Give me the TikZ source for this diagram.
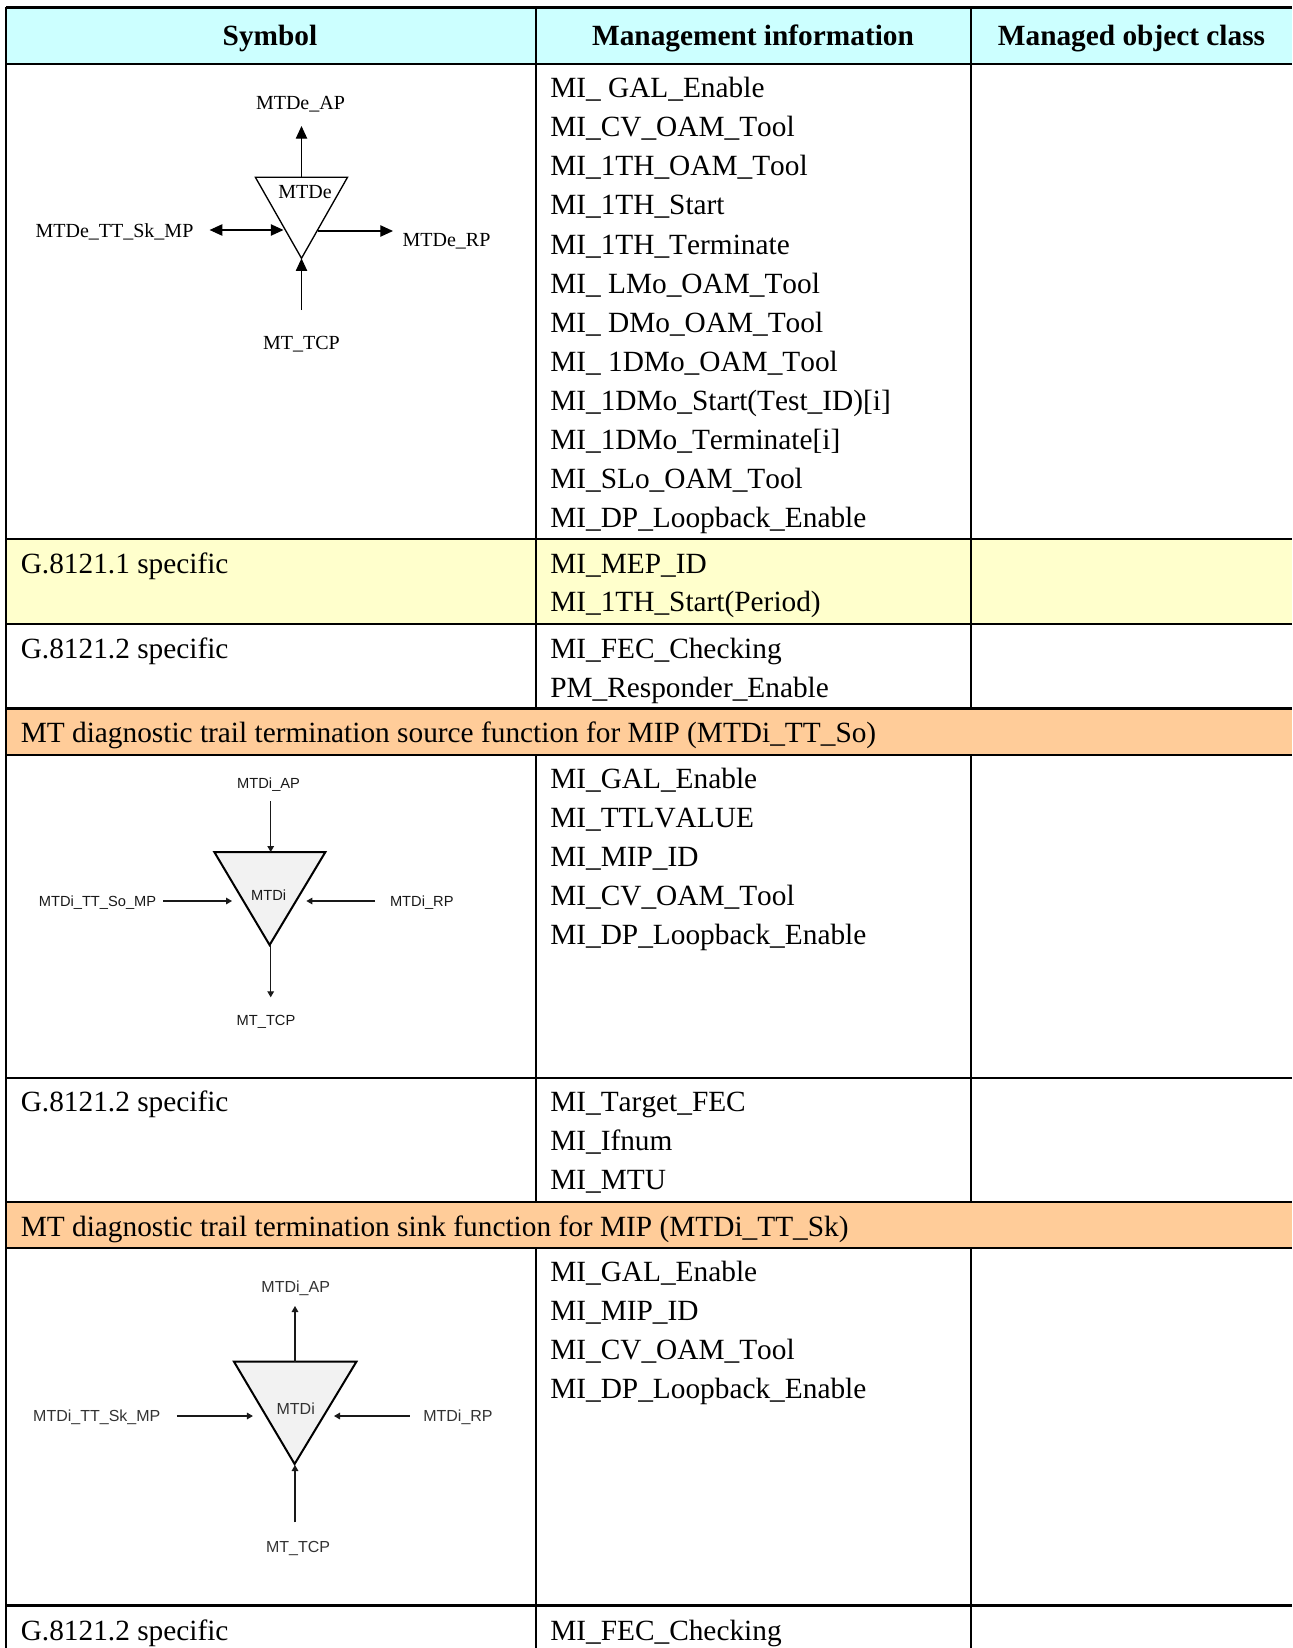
\documentclass[tikz,border=0pt]{standalone}
\usepackage{fontspec}
\setmainfont[Kerning=Off]{Liberation Serif}
\newfontfamily\arialfont{Liberation Sans}
\usetikzlibrary{arrows.meta}
\definecolor{headcol}{HTML}{CCFFFF}
\definecolor{yellowcol}{HTML}{FFFFCC}
\definecolor{orangecol}{HTML}{FFCC99}
\definecolor{trifill}{HTML}{F2F2F2}
\tikzset{
  cellfont/.style={font=\fontsize{22}{26}\selectfont},
  celltext/.style={cellfont,anchor=base west,inner sep=0pt,text=black},
  headtext/.style={font=\fontsize{22}{26}\selectfont\bfseries,anchor=base,inner sep=0pt},
  rule/.style={line width=1.7pt,black},
  seriflabel/.style={font=\fontsize{15}{18}\selectfont,anchor=base,inner sep=0pt},
  sanslabelA/.style={font=\fontsize{11}{13}\selectfont\arialfont,anchor=base,inner sep=0pt,text=black!90},
  sanslabelB/.style={font=\fontsize{12}{14}\selectfont\arialfont,anchor=base,inner sep=0pt,text=black!80},
  bigarrow/.style={line width=0.9pt,-{Triangle[length=9.5pt,width=8.5pt]}},
  bigboth/.style={line width=0.9pt,{Triangle[length=9.5pt,width=8.5pt]}-{Triangle[length=9.5pt,width=8.5pt]}},
  smallarrow/.style={line width=0.8pt,black!90,-{Triangle[length=4.5pt,width=5pt]}},
  whitetri/.style={line width=1pt,draw=black,fill=white,line join=miter},
  greytri/.style={line width=1.5pt,draw=black,fill=trifill,line join=miter},
}
% name, x, first baseline, line distance, lines
\newcommand{\celllines}[5]{%
  \foreach \linetext [count=\linei from 0] in {#5} {
    \node[celltext] (#1-\linei) at (#2,{#3+\linei*#4}) {\linetext};
  }%
}
\begin{document}
\begin{tikzpicture}[x=0.75pt,y=-0.75pt]
\useasboundingbox (0,0) rectangle (1292,1648);
% fills
\fill[headcol] (6,7.4) rectangle (1292,64);
\fill[yellowcol] (6,539) rectangle (1292,624);
\fill[orangecol] (6,708.6) rectangle (1292,755);
\fill[orangecol] (6,1202) rectangle (1292,1248);
% rules
\foreach \yy in {7.4,64,539,624,708.6,755,1078,1202,1248,1605.5} {
  \draw[rule] (6,\yy) -- (1292,\yy);
}
\draw[rule] (6,6.6) -- (6,1648);
\foreach \xx in {536,971} {
  \draw[rule] (\xx,7.4) -- (\xx,708.6);
  \draw[rule] (\xx,755) -- (\xx,1202);
  \draw[rule] (\xx,1248) -- (\xx,1648);
}
% header
\node[headtext] (h1) at (270,46) {Symbol};
\node[headtext] (h2) at (753,46) {Management information};
\node[headtext] (h3) at (1131.5,46) {Managed object class};
% column 2
\celllines{a}{550}{97.7}{39.09}{MI\_ GAL\_Enable,MI\_CV\_OAM\_Tool,MI\_1TH\_OAM\_Tool,MI\_1TH\_Start,MI\_1TH\_Terminate,MI\_ LMo\_OAM\_Tool,MI\_ DMo\_OAM\_Tool,MI\_ 1DMo\_OAM\_Tool,MI\_1DMo\_Start(Test\_ID)[i],MI\_1DMo\_Terminate[i],MI\_SLo\_OAM\_Tool,MI\_DP\_Loopback\_Enable}
\celllines{b}{550}{573}{38.6}{MI\_MEP\_ID,MI\_1TH\_Start(Period)}
\celllines{c}{550}{658}{39}{MI\_FEC\_Checking,PM\_Responder\_Enable}
\celllines{d}{550}{788.5}{39}{MI\_GAL\_Enable,MI\_TTLVALUE,MI\_MIP\_ID,MI\_CV\_OAM\_Tool,MI\_DP\_Loopback\_Enable}
\celllines{e}{550}{1111.2}{39}{MI\_Target\_FEC,MI\_Ifnum,MI\_MTU}
\celllines{f}{550}{1281.5}{39}{MI\_GAL\_Enable,MI\_MIP\_ID,MI\_CV\_OAM\_Tool,MI\_DP\_Loopback\_Enable}
\node[celltext] (g) at (550,1640) {MI\_FEC\_Checking};
% column 1 text
\node[celltext] (l1) at (20.5,573) {G.8121.1 specific};
\node[celltext] (l2) at (20.5,658) {G.8121.2 specific};
\node[celltext] (o1) at (20.5,742.2) {MT diagnostic trail termination source function for MIP (MTDi\_TT\_So)};
\node[celltext] (l3) at (20.5,1111.2) {G.8121.2 specific};
\node[celltext] (o2) at (20.5,1236) {MT diagnostic trail termination sink function for MIP (MTDi\_TT\_Sk)};
\node[celltext] (l4) at (20.5,1640) {G.8121.2 specific};
% symbol 1
\coordinate (ta) at (255.4,177.3);
\coordinate (tb) at (347.5,177.3);
\coordinate (tc) at (301.5,258.3);
\coordinate (tt) at (301.5,177.3);
\coordinate (ua) at (301.5,126);
\coordinate (la) at (209.6,230);
\coordinate (lb) at (283.5,230);
\coordinate (ra) at (318,231);
\coordinate (rb) at (393,231);
\coordinate (da) at (301.5,310);
\draw[whitetri] (ta) -- (tb) -- (tc) -- cycle;
\draw[bigarrow] (tt) -- (ua);
\draw[bigboth] (la) -- (lb);
\draw[bigarrow] (ra) -- (rb);
\draw[bigarrow] (da) -- (tc);
\node[seriflabel] (s1a) at (300.5,110) {MTDe\_AP};
\node[seriflabel] (s1m) at (305,198) {MTDe};
\node[seriflabel] (s1l) at (114.5,237.7) {MTDe\_TT\_Sk\_MP};
\node[seriflabel] (s1r) at (446.5,246) {MTDe\_RP};
\node[seriflabel] (s1t) at (301.5,349) {MT\_TCP};
% symbol 2
\coordinate (pa) at (214.3,852);
\coordinate (pb) at (325.4,852);
\coordinate (pc) at (269.6,945);
\coordinate (pt) at (270.7,852);
\coordinate (pu) at (270.7,801);
\coordinate (pd) at (270.7,945);
\coordinate (pe) at (270.7,997.3);
\coordinate (pl) at (163,901);
\coordinate (pm) at (232,901);
\coordinate (pr) at (375,901);
\coordinate (ps) at (306.4,901);
\draw[greytri] (pa) -- (pb) -- (pc) -- cycle;
\draw[smallarrow] (pu) -- (pt);
\draw[smallarrow] (pd) -- (pe);
\draw[smallarrow] (pl) -- (pm);
\draw[smallarrow] (pr) -- (ps);
\node[sanslabelA] (s2a) at (268.6,788.3) {MTDi\_AP};
\node[sanslabelA] (s2m) at (268.6,900.7) {MTDi};
\node[sanslabelA] (s2l) at (97.5,906) {MTDi\_TT\_So\_MP};
\node[sanslabelA] (s2r) at (421.8,906) {MTDi\_RP};
\node[sanslabelA] (s2t) at (266,1025.3) {MT\_TCP};
% symbol 3
\coordinate (qa) at (234,1361.7);
\coordinate (qb) at (356.4,1361.7);
\coordinate (qc) at (294.6,1464);
\coordinate (qt) at (295,1361.7);
\coordinate (qu) at (295,1306);
\coordinate (qd) at (295,1522.3);
\coordinate (qe) at (295,1465);
\coordinate (ql) at (176.8,1416);
\coordinate (qm) at (252.9,1416);
\coordinate (qr) at (409.6,1416);
\coordinate (qs) at (334,1416);
\draw[greytri] (qa) -- (qb) -- (qc) -- cycle;
\draw[smallarrow] (qt) -- (qu);
\draw[smallarrow] (qd) -- (qe);
\draw[smallarrow] (ql) -- (qm);
\draw[smallarrow] (qr) -- (qs);
\node[sanslabelB] (s3a) at (295.7,1292.3) {MTDi\_AP};
\node[sanslabelB] (s3m) at (295.7,1414) {MTDi};
\node[sanslabelB] (s3l) at (96.8,1421) {MTDi\_TT\_Sk\_MP};
\node[sanslabelB] (s3r) at (458,1421) {MTDi\_RP};
\node[sanslabelB] (s3t) at (298,1552) {MT\_TCP};
\end{tikzpicture}
\end{document}
